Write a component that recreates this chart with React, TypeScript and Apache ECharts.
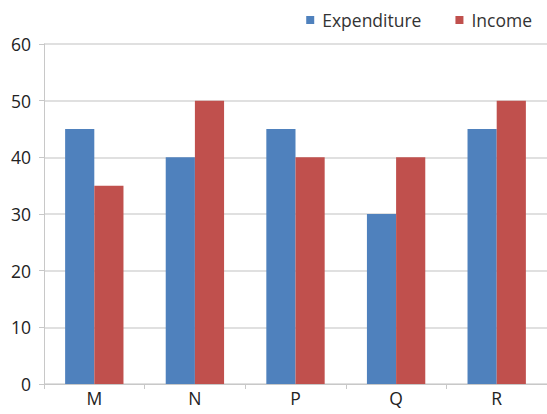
import React, { useEffect, useRef } from "react";
import * as echarts from "echarts";

const categories = ["M", "N", "P", "Q", "R"];
const expenditure = [45, 40, 45, 30, 45];
const income = [35, 50, 40, 40, 50];
const yTicks = { min: 0, max: 60, interval: 10 };

export default function App() {
  const ref = useRef<HTMLDivElement>(null);
  useEffect(() => {
    const chart = echarts.init(ref.current!, null, { renderer: "svg" });
    const font = "'Open Sans', 'Noto Sans', sans-serif";
    chart.setOption({
      animation: false,
      textStyle: { fontFamily: font },
      legend: {
        right: 10,
        top: 6,
        itemWidth: 8,
        itemHeight: 8,
        itemGap: 34,
        icon: "rect",
        textStyle: { fontFamily: font, fontSize: 17.5, color: "#333", padding: [0, 0, 0, 3] },
        data: ["Expenditure", "Income"],
      },
      grid: { left: 44, right: 0, top: 44, bottom: 30 },
      xAxis: {
        type: "category",
        data: categories,
        axisLine: { lineStyle: { color: "#c8c8c8", width: 1 } },
        axisTick: { show: true, length: 5, lineStyle: { color: "#c8c8c8" } },
        axisLabel: { fontFamily: font, fontSize: 17.5, color: "#222", margin: 5 },
      },
      yAxis: {
        type: "value",
        min: yTicks.min,
        max: yTicks.max,
        interval: yTicks.interval,
        axisLine: { show: true, lineStyle: { color: "#c8c8c8", width: 1 } },
        axisTick: { show: true, length: 5, lineStyle: { color: "#c8c8c8" } },
        splitLine: { lineStyle: { color: "#d6d6d6", width: 1.5 } },
        axisLabel: { fontFamily: font, fontSize: 17.5, color: "#222", margin: 13 },
      },
      series: [
        {
          name: "Expenditure",
          type: "bar",
          data: expenditure,
          itemStyle: { color: "#4f81bd" },
          barGap: "0%",
          barCategoryGap: "42%",
        },
        {
          name: "Income",
          type: "bar",
          data: income,
          itemStyle: { color: "#c0504d" },
          barGap: "0%",
          barCategoryGap: "42%",
        },
      ],
    });
    return () => chart.dispose();
  }, []);
  return (
    <div
      ref={ref}
      style={{ position: "absolute", left: 0, top: 0, width: 547, height: 414 }}
    />
  );
}
